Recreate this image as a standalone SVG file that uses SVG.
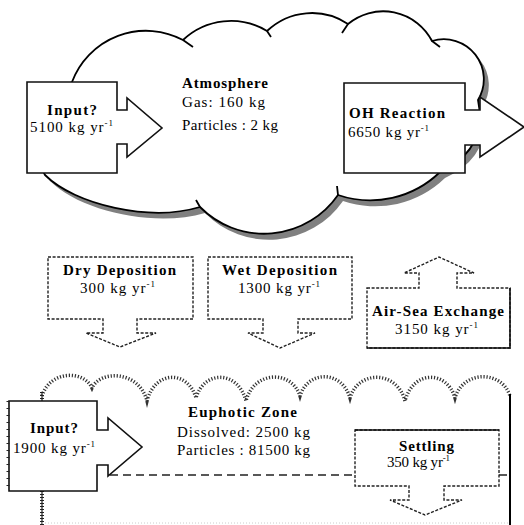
<svg xmlns="http://www.w3.org/2000/svg" width="524" height="525" viewBox="0 0 524 525">
<style>
text{font-family:"Liberation Serif","Times New Roman",serif;font-size:15px;fill:#000}
.b{font-weight:bold}
.sup{font-size:9px}
.solid{fill:#fff;stroke:#111;stroke-width:1.6}
.dash{fill:#fff;stroke:#222;stroke-width:1.4;stroke-dasharray:3,1.6}
.cloud{fill:#fff;stroke:#000;stroke-width:1.8}
.shadow{fill:#808080}
.tail{fill:none;stroke:#000;stroke-width:1.8}
.wave{fill:none;stroke:#333;stroke-width:3.5;stroke-dasharray:1.2,1.8}
</style>
<defs>
<path id="cloudShape" d="M72,82 A79,79 0 0,1 183,40 A70,70 0 0,1 267,31 A65,65 0 0,1 348,24 A55,55 0 0,1 432,41 A40,40 0 0,1 478,100 Q488,150 440,172 A100,100 0 0,1 338,195 A90,90 0 0,1 200,207 C150,222 75,205 45,175 C30,150 32,100 72,82 Z"/>
</defs>

<g id="atmosphere">
<use href="#cloudShape" class="shadow" transform="translate(5,6)"/>
<use href="#cloudShape" class="cloud"/>
<path class="tail" d="M183,40 L193,47 M267,31 L271,37 M342,33 L348,24 M432,41 L440,47 M338,195 L337,186 M200,207 L196,200"/>
<text class="b" x="182" y="88" textLength="86" lengthAdjust="spacing">Atmosphere</text>
<text x="182" y="107" textLength="83" lengthAdjust="spacing">Gas: 160 kg</text>
<text x="182" y="130" textLength="96" lengthAdjust="spacing">Particles : 2 kg</text>
</g>

<g id="input-atmosphere">
<path class="solid" d="M27,82 H117 V110 H127 V98 L162,128 L127,157 V144 H117 V173 H27 Z"/>
<text class="b" x="47" y="115" textLength="50" lengthAdjust="spacing">Input?</text>
<text x="30" y="132" textLength="83" lengthAdjust="spacing">5100 kg yr<tspan class="sup" dy="-6">-1</tspan></text>
</g>

<g id="oh-reaction">
<path class="solid" d="M344,83 H465 V110 H480 V97 L524,127 L480,157 V145 H465 V173 H344 Z"/>
<text class="b" x="349" y="118" textLength="96" lengthAdjust="spacing">OH Reaction</text>
<text x="348" y="137" textLength="81" lengthAdjust="spacing">6650 kg yr<tspan class="sup" dy="-6">-1</tspan></text>
</g>

<g id="dry-deposition">
<path class="dash" d="M48,257 H193 V319 H137 V333 H156 L120,347 L86,333 H103 V319 H48 Z"/>
<text class="b" x="63" y="275" textLength="113" lengthAdjust="spacing">Dry Deposition</text>
<text x="80" y="293" textLength="75" lengthAdjust="spacing">300 kg yr<tspan class="sup" dy="-6">-1</tspan></text>
</g>

<g id="wet-deposition">
<path class="dash" d="M208,257 H352 V319 H298 V333 H315 L280,348 L248,333 H263 V319 H208 Z"/>
<text class="b" x="222" y="275" textLength="115" lengthAdjust="spacing">Wet Deposition</text>
<text x="238" y="293" textLength="82" lengthAdjust="spacing">1300 kg yr<tspan class="sup" dy="-6">-1</tspan></text>
</g>

<g id="air-sea-exchange">
<path class="dash" d="M367,288 H419 V273 H404 L439,257 L474,273 H457 V288 H510 V348 H367 Z"/>
<path fill="none" stroke="#111" stroke-width="1.6" d="M367,348 H510 V288"/>
<text class="b" x="372" y="316" textLength="132" lengthAdjust="spacing">Air-Sea Exchange</text>
<text x="395" y="334" textLength="83" lengthAdjust="spacing">3150 kg yr<tspan class="sup" dy="-6">-1</tspan></text>
</g>

<g id="euphotic-zone">
<path class="wave" d="M42,396 C50,370 84,370 92,388 C100,370 139,370 147,401 C155,370 188,370 196,398 C204,370 238,370 246,401 C254,370 292,370 300,396 C308,370 342,370 350,398 C358,370 397,370 405,401 C413,370 447,370 455,398 C463,370 502,370 510,396"/>
<line x1="510" y1="394" x2="510" y2="525" stroke="#000" stroke-width="2"/>
<line x1="42" y1="392" x2="42" y2="525" stroke="#222" stroke-width="1.2"/>
<line x1="42" y1="392" x2="42" y2="525" stroke="#222" stroke-width="4" stroke-dasharray="1,2"/>
<line x1="42" y1="523" x2="510" y2="523" stroke="#ccc" stroke-width="1" stroke-dasharray="1,2"/>
<path fill="none" stroke="#222" stroke-width="1.3" stroke-dasharray="8,5" d="M110,475 H355 M499,475 H510"/>
<text class="b" x="188" y="417" textLength="109" lengthAdjust="spacing">Euphotic Zone</text>
<text x="177" y="437" textLength="133" lengthAdjust="spacing">Dissolved: 2500 kg</text>
<text x="177" y="455" textLength="133" lengthAdjust="spacing">Particles : 81500 kg</text>
</g>

<g id="input-ocean">
<path class="solid" d="M9,401 H97 V430 H108 V418 L142,447 L108,476 V465 H97 V491 H9 Z"/>
<line x1="8" y1="401" x2="8" y2="491" stroke="#222" stroke-width="3" stroke-dasharray="1,6"/>
<text class="b" x="30" y="433" textLength="48" lengthAdjust="spacing">Input?</text>
<text x="13" y="453" textLength="82" lengthAdjust="spacing">1900 kg yr<tspan class="sup" dy="-6">-1</tspan></text>
</g>

<g id="settling">
<path class="dash" d="M355,430 H499 V486 H444 V500 H462 L425,515 L390,500 H409 V486 H355 Z"/>
<line x1="355" y1="430" x2="499" y2="430" stroke="#111" stroke-width="1.6"/>
<text class="b" x="399" y="451" textLength="55" lengthAdjust="spacing">Settling</text>
<text x="387" y="467" textLength="63" lengthAdjust="spacing">350 kg yr<tspan class="sup" dy="-6">-1</tspan></text>
</g>

<g id="connectors"></g>
</svg>
